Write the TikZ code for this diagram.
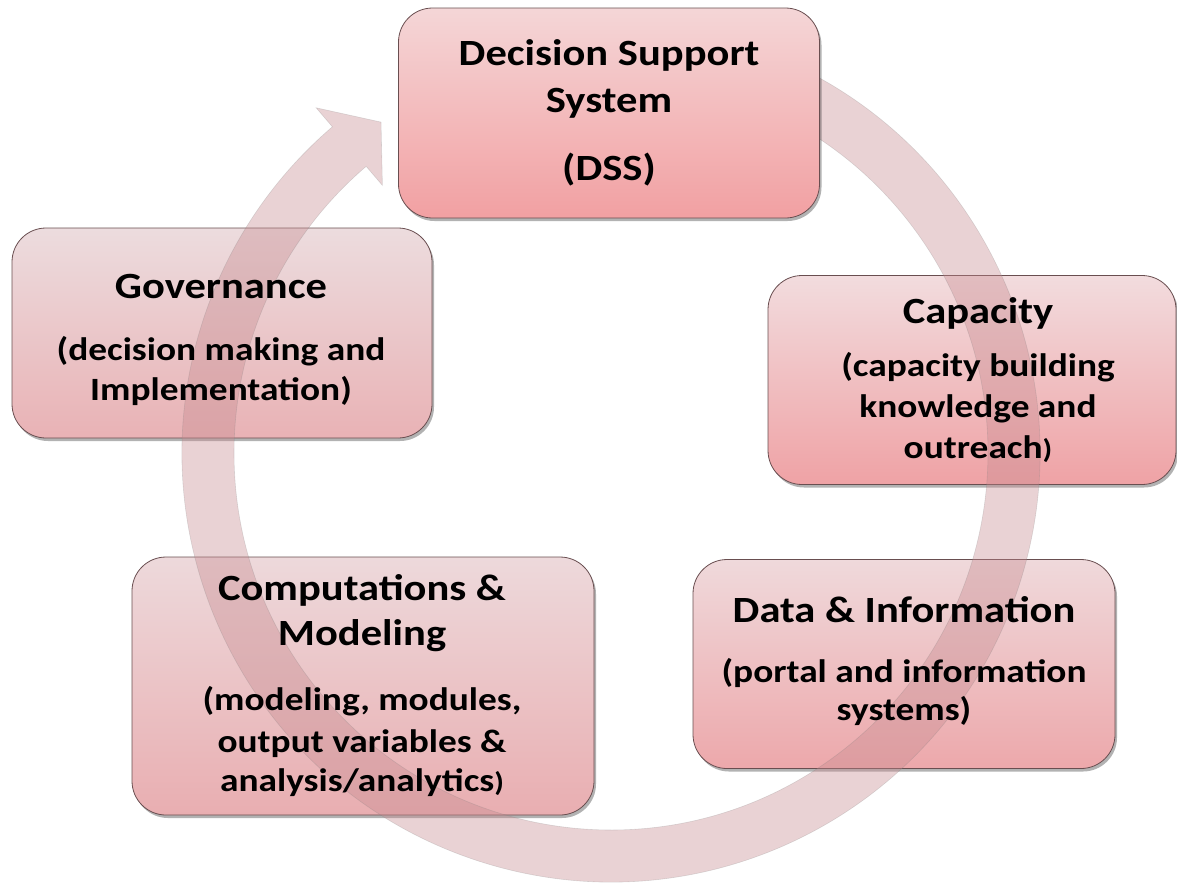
\documentclass[tikz,border=0pt]{standalone}
\usepackage{fontspec}
\setmainfont{Carlito}[FakeStretch=1.15]
\usetikzlibrary{shadows,calc}
\definecolor{ringc}{RGB}{198,138,143}
\definecolor{edgec}{RGB}{105,78,80}
\definecolor{dssT}{RGB}{244,214,215}
\definecolor{dssB}{RGB}{242,160,162}
\definecolor{govT}{RGB}{236,220,222}
\definecolor{govB}{RGB}{233,178,181}
\definecolor{capT}{RGB}{242,220,222}
\definecolor{capB}{RGB}{239,162,165}
\definecolor{cmpT}{RGB}{237,217,219}
\definecolor{cmpB}{RGB}{233,174,177}
\definecolor{datT}{RGB}{239,217,219}
\definecolor{datB}{RGB}{237,168,171}
\tikzset{
  box/.style={rounded corners=34pt, draw=edgec, line width=0.8pt, inner sep=0pt,
    drop shadow={shadow xshift=2pt, shadow yshift=-3pt, opacity=0.3, fill=black}},
  ttl/.style={anchor=base, inner sep=0pt, font=\fontsize{37}{44}\selectfont\bfseries},
  sub/.style={anchor=base, inner sep=0pt, font=\fontsize{32.5}{40}\selectfont\bfseries},
  ring/.style={fill=ringc, fill opacity=0.38, draw=gray, draw opacity=0.25, line width=0.6pt},
}
\begin{document}
\begin{tikzpicture}[x=1pt,y=-1pt]
\useasboundingbox (0,0) rectangle (1177,887);
\coordinate (c) at (611,453);
% boxes under the ring
\node[box, top color=govT, bottom color=govB, minimum width=420pt, minimum height=210pt] (gov) at (222,333) {};
\node[box, top color=capT, bottom color=capB, minimum width=408pt, minimum height=209pt] (cap) at (972,380) {};
\node[box, top color=cmpT, bottom color=cmpB, minimum width=462pt, minimum height=258pt] (cmp) at (363,686) {};
\node[box, top color=datT, bottom color=datB, minimum width=422pt, minimum height=209pt] (dat) at (904,664) {};
% circular arrow
\path[ring] ($(c)+(-72:429)$) arc[start angle=-72, end angle=229.5, radius=429]
  -- ($(c)+(229.5:454)$) -- ($(c)+(235.2:403)$) -- ($(c)+(229.5:352)$)
  -- ($(c)+(229.5:377)$) arc[start angle=229.5, end angle=-72, radius=377] -- cycle;
% top box
\node[box, top color=dssT, bottom color=dssB, minimum width=421pt, minimum height=210pt] (dss) at (609,113) {};
% texts
\node[ttl] (dss1) at (609,65) {Decision Support};
\node[ttl] (dss2) at (609,112) {System};
\node[ttl] (dss3) at (609,180) {(DSS)};
\node[ttl] (gov1) at (221,298) {Governance};
\node[sub] (gov2) at (221,360) {(decision making and};
\node[sub] (gov3) at (221,400) {Implementation)};
\node[ttl] (cap1) at (978,323) {Capacity};
\node[sub] (cap2) at (978,376) {(capacity building};
\node[sub] (cap3) at (978,417) {knowledge and};
\node[sub] (cap4) at (978,458) {outreach{\fontsize{27}{30}\selectfont)}};
\node[ttl] (cmp1) at (362,600) {Computations \&};
\node[ttl] (cmp2) at (362,645) {Modeling};
\node[sub] (cmp3) at (362,710) {(modeling, modules,};
\node[sub] (cmp4) at (362,752) {output variables \&};
\node[sub] (cmp5) at (362,791) {analysis/analytics{\fontsize{27}{30}\selectfont)}};
\node[ttl] (dat1) at (904,622) {Data \& Information};
\node[sub] (dat2) at (904,682) {(portal and information};
\node[sub] (dat3) at (904,720) {systems)};
\end{tikzpicture}
\end{document}
